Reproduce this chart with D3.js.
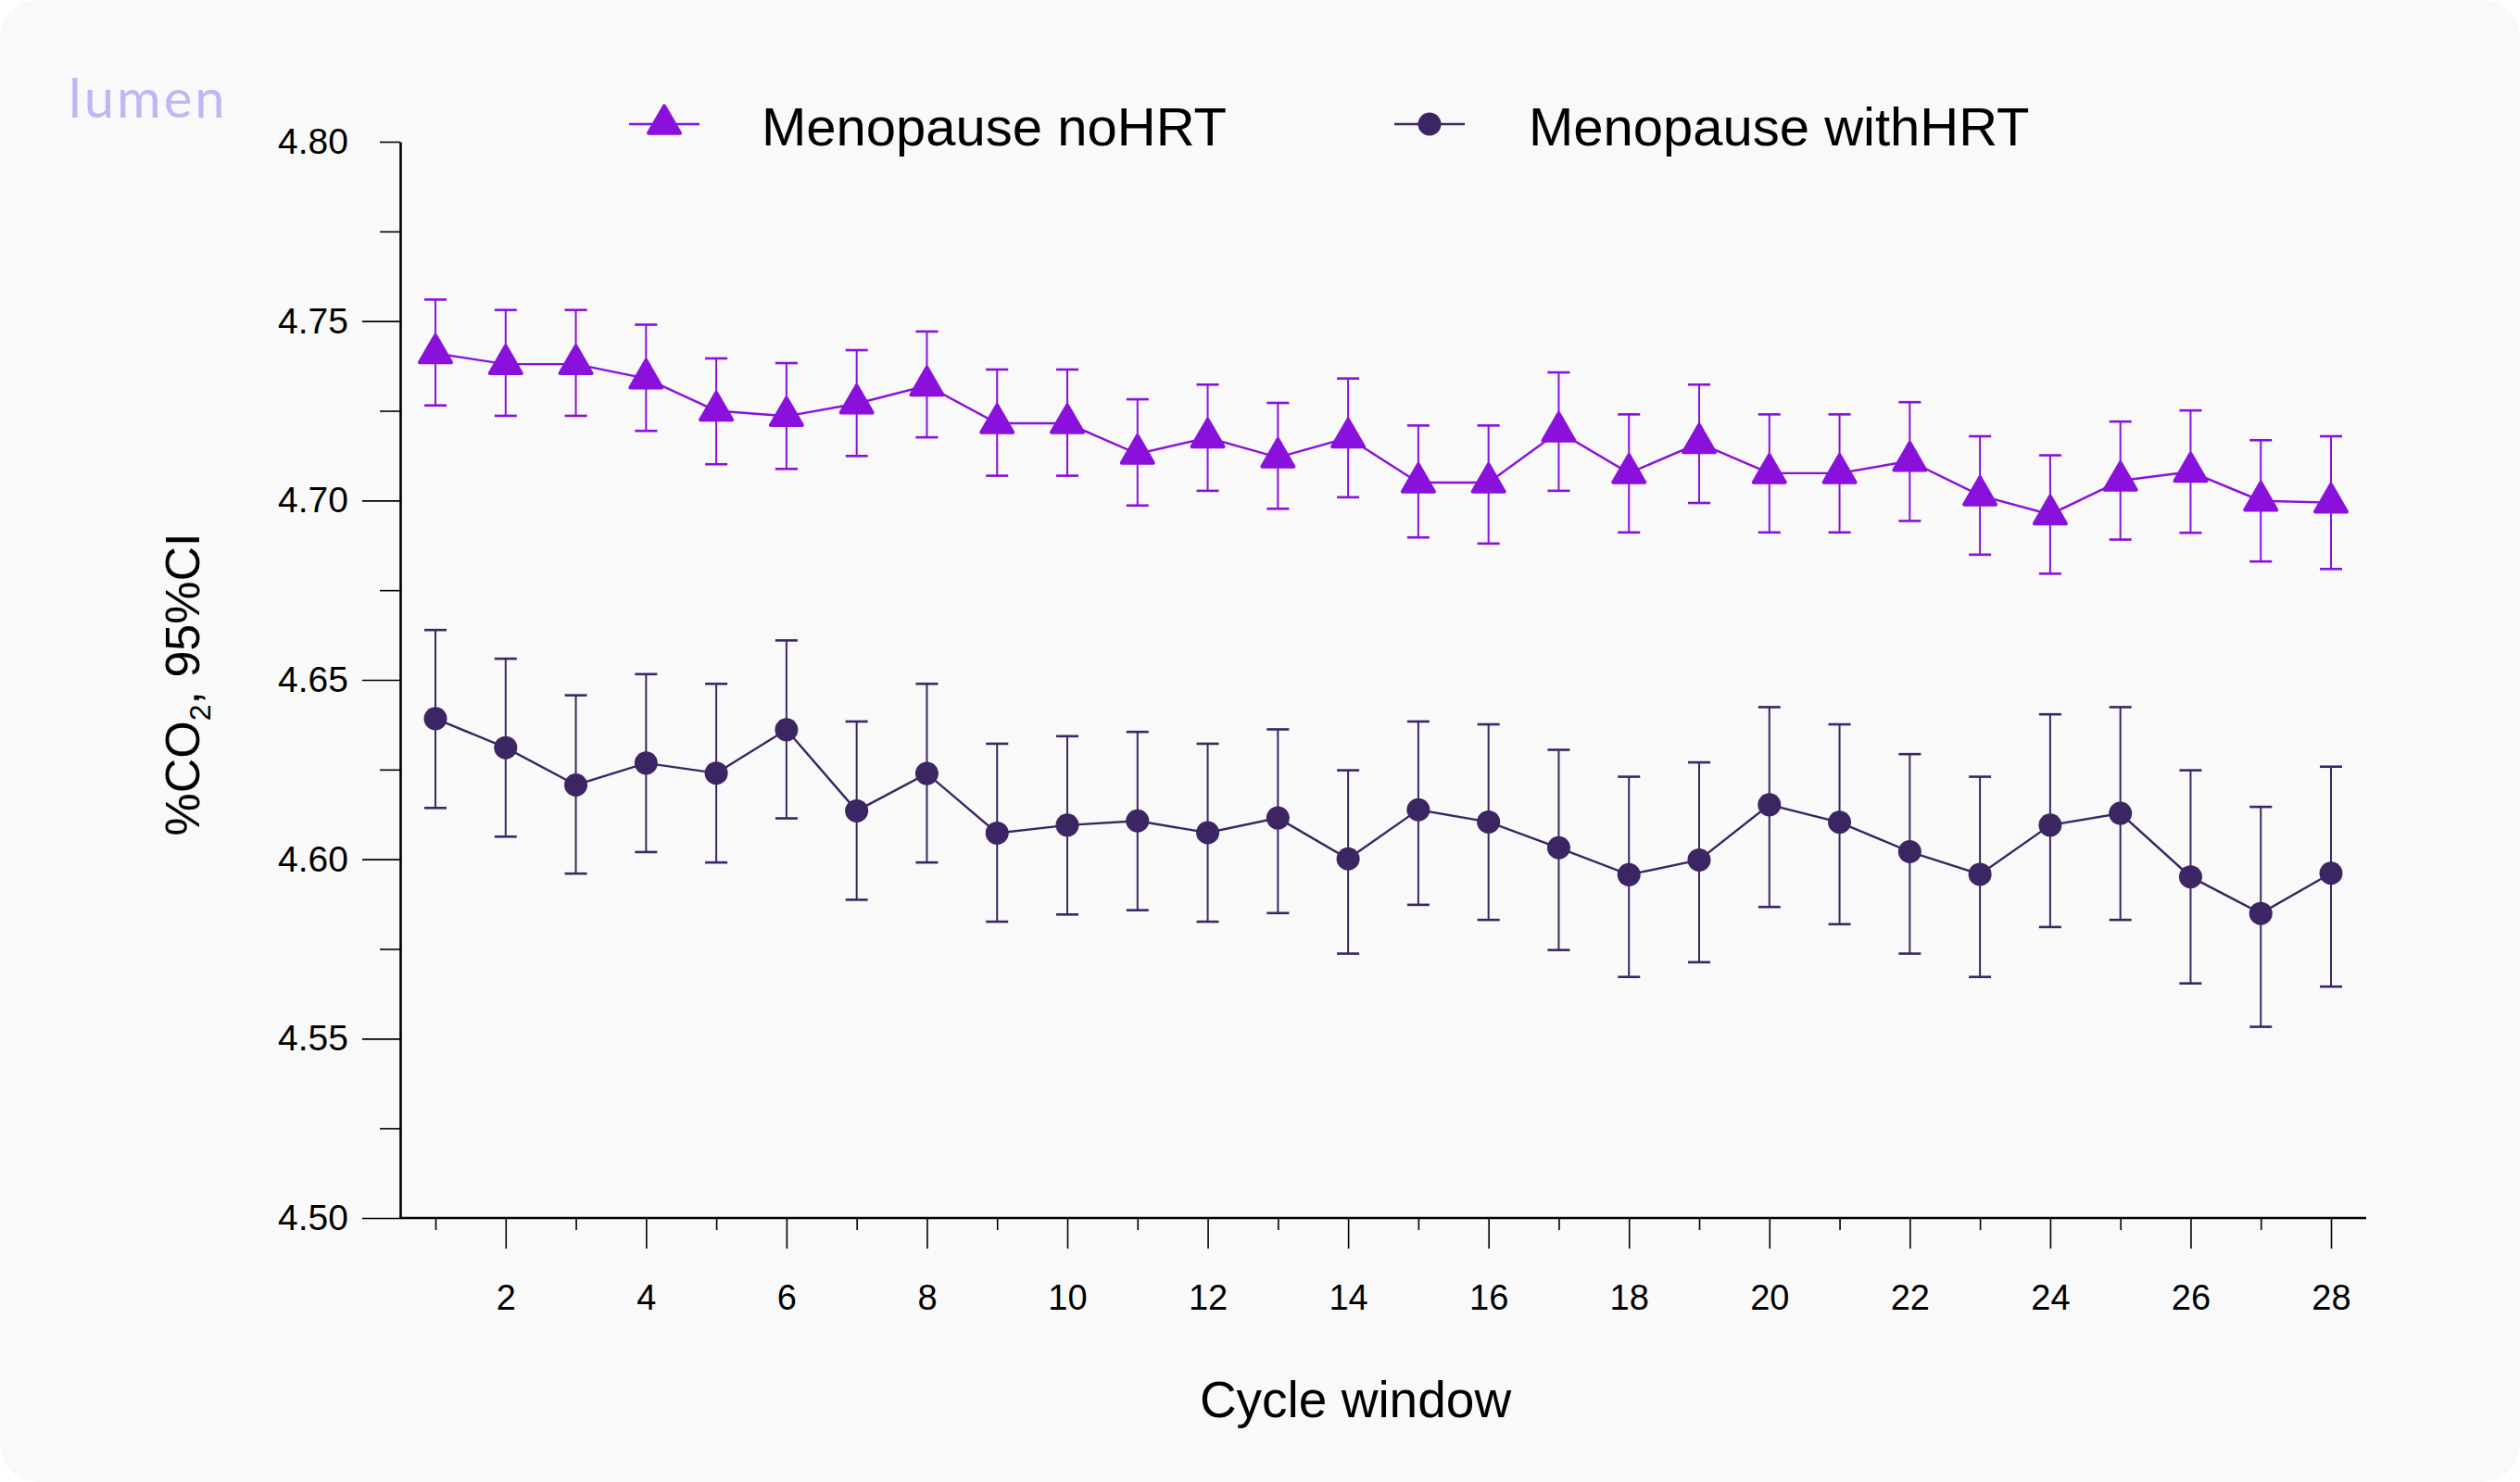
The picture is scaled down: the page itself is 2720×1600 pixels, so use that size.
<!DOCTYPE html>
<html>
<head>
<meta charset="utf-8">
<script src="https://cdn.jsdelivr.net/npm/d3@7"></script>
<style>
  html, body { margin: 0; padding: 0; background: #ffffff; }
  svg { display: block; }
  text { font-family: "Liberation Sans", Arial, Helvetica, sans-serif; fill: #000; }
</style>
</head>
<body>
<svg id="chart" width="2720" height="1600"></svg>
<script>
// ---------------- data ----------------
const cycleWindows = d3.range(1, 29);
const seriesNames = ["Menopause noHRT", "Menopause withHRT"];

const noHRTMean = [4.741, 4.738, 4.738, 4.734, 4.725, 4.7235, 4.727, 4.732, 4.7215, 4.7215,
  4.713, 4.7175, 4.712, 4.7175, 4.705, 4.705, 4.7192, 4.7076, 4.716, 4.7076,
  4.7076, 4.711, 4.7014, 4.6961, 4.7055, 4.708, 4.6999, 4.6994];
const noHRTLow = [4.7265, 4.7236, 4.7236, 4.7194, 4.7101, 4.7088, 4.7124, 4.7176, 4.7069, 4.7069,
  4.6986, 4.7027, 4.6977, 4.7009, 4.6897, 4.6880, 4.7027, 4.6911, 4.6993, 4.6911,
  4.6911, 4.6943, 4.6849, 4.6796, 4.6891, 4.6910, 4.6830, 4.6809];
const noHRTHigh = [4.7560, 4.7531, 4.7531, 4.7490, 4.7396, 4.7383, 4.7419, 4.7471, 4.7365, 4.7365,
  4.7282, 4.7323, 4.7272, 4.7340, 4.7209, 4.7209, 4.7357, 4.7240, 4.7323, 4.7240,
  4.7240, 4.7274, 4.7179, 4.7126, 4.7220, 4.7251, 4.7168, 4.7179];

const withHRTMean = [4.6392, 4.6311, 4.6207, 4.6268, 4.6240, 4.6361, 4.6135, 4.6239, 4.6073, 4.6095,
  4.6107, 4.6074, 4.6115, 4.6001, 4.6138, 4.6104, 4.6032, 4.5957, 4.5998, 4.6152,
  4.6103, 4.6021, 4.5958, 4.6095, 4.6128, 4.5951, 4.5849, 4.5961];
const withHRTLow = [4.6143, 4.6063, 4.5960, 4.6020, 4.5991, 4.6114, 4.5887, 4.5991, 4.5826, 4.5846,
  4.5858, 4.5826, 4.5850, 4.5737, 4.5873, 4.5831, 4.5747, 4.5672, 4.5713, 4.5867,
  4.5819, 4.5737, 4.5672, 4.5811, 4.5831, 4.5654, 4.5533, 4.5645];
const withHRTHigh = [4.6639, 4.6559, 4.6457, 4.6516, 4.6489, 4.6610, 4.6384, 4.6489, 4.6322, 4.6343,
  4.6355, 4.6322, 4.6362, 4.6248, 4.6384, 4.6376, 4.6305, 4.6230, 4.6270, 4.6424,
  4.6376, 4.6293, 4.6230, 4.6404, 4.6424, 4.6248, 4.6146, 4.6258];

const yMajorTicks = [4.50, 4.55, 4.60, 4.65, 4.70, 4.75, 4.80];
const yMinorTicks = [4.525, 4.575, 4.625, 4.675, 4.725, 4.775];
const xLabelTicks = [2, 4, 6, 8, 10, 12, 14, 16, 18, 20, 22, 24, 26, 28];
const xOddTicks = [1, 3, 5, 7, 9, 11, 13, 15, 17, 19, 21, 23, 25, 27];

// ---------------- layout ----------------
const W = 2720, H = 1600;
const colNo = "#8a10dc";
const colWith = "#3b2562";

const svg = d3.select("#chart");

svg.append("rect").attr("x", 0).attr("y", 0).attr("width", W).attr("height", H)
  .attr("rx", 40).attr("ry", 40).attr("fill", "#f9f9fa");

// logo
svg.append("text").attr("x", 74).attr("y", 127)
  .style("font-family", "Lato, 'Open Sans', sans-serif")
  .style("font-size", "58px").style("font-weight", 400)
  .style("letter-spacing", "3px")
  .style("fill", "#c2b5f6").text("lumen");

const x = d3.scaleLinear().domain([1, 28]).range([470, 2516]);
const y = d3.scaleLinear().domain([4.5, 4.8]).range([1315, 153]);
const axisX0 = 432, axisX1 = 2554, axisY = 1315;

// Y axis
const gy = svg.append("g").attr("transform", `translate(${axisX0},0)`);
gy.call(d3.axisLeft(y).tickValues(yMajorTicks).tickSize(41).tickSizeOuter(0)
  .tickPadding(15).tickFormat(d3.format(".2f")));
gy.call(g => g.selectAll(".tick").filter(d => d === 4.80).select("line").attr("x2", -22));
const gyMinor = svg.append("g").attr("transform", `translate(${axisX0},0)`);
gyMinor.call(d3.axisLeft(y).tickValues(yMinorTicks).tickSize(22).tickSizeOuter(0).tickFormat(""));
gyMinor.select(".domain").remove();
[gy, gyMinor].forEach(g => {
  g.selectAll(".tick line").attr("stroke", "#000").attr("stroke-width", 1.6);
});
gy.select(".domain").attr("stroke", "#000").attr("stroke-width", 2.6);
gy.selectAll(".tick text").style("font-size", "39px").style("font-family", "'Liberation Sans', Arial, sans-serif").attr("fill", "#000");

// X axis
const gx = svg.append("g").attr("transform", `translate(0,${axisY})`);
gx.call(d3.axisBottom(x).tickValues(xLabelTicks).tickSize(33).tickSizeOuter(0).tickPadding(39));
gx.select(".domain").remove();
const gxMinor = svg.append("g").attr("transform", `translate(0,${axisY})`);
gxMinor.call(d3.axisBottom(x).tickValues(xOddTicks).tickSize(13).tickSizeOuter(0).tickFormat(""));
gxMinor.select(".domain").remove();
[gx, gxMinor].forEach(g => g.selectAll(".tick line").attr("stroke", "#000").attr("stroke-width", 1.6));
gx.selectAll(".tick text").style("font-size", "38px").style("font-family", "'Liberation Sans', Arial, sans-serif").attr("fill", "#000");
svg.append("line").attr("x1", axisX0 - 1).attr("x2", axisX1).attr("y1", axisY).attr("y2", axisY)
  .attr("stroke", "#000").attr("stroke-width", 2.6);

// axis titles
svg.append("text").attr("x", 1463).attr("y", 1530).attr("text-anchor", "middle")
  .style("font-size", "55px").text("Cycle window");

const yt = svg.append("text").attr("transform", "translate(215,739) rotate(-90)")
  .attr("text-anchor", "middle").style("font-size", "52px");
yt.append("tspan").text("%CO");
yt.append("tspan").attr("dy", 12).style("font-size", "32px").text("2");
yt.append("tspan").attr("dy", -12).text(", 95%CI");

// ---------------- series ----------------
const series = [
  { name: seriesNames[0], mean: noHRTMean, lo: noHRTLow, hi: noHRTHigh, color: colNo, marker: "triangle" },
  { name: seriesNames[1], mean: withHRTMean, lo: withHRTLow, hi: withHRTHigh, color: colWith, marker: "circle" }
];

const tri = d3.symbol().type(d3.symbolTriangle).size(500);

function drawMarker(g, type, color, cx, cy) {
  if (type === "triangle") {
    g.append("path").attr("d", tri()).attr("transform", `translate(${cx},${cy})`)
      .attr("fill", color).attr("stroke", color).attr("stroke-width", 4).attr("stroke-linejoin", "round");
  } else {
    g.append("circle").attr("cx", cx).attr("cy", cy).attr("r", 12.5).attr("fill", color);
  }
}

series.forEach(s => {
  const g = svg.append("g");
  const pts = cycleWindows.map((c, i) => ({ c, m: s.mean[i], lo: s.lo[i], hi: s.hi[i] }));
  // error bars
  const eb = g.append("g").selectAll("g").data(pts).join("g");
  eb.append("line").attr("x1", d => x(d.c)).attr("x2", d => x(d.c))
    .attr("y1", d => y(d.lo)).attr("y2", d => y(d.hi))
    .attr("stroke", s.color).attr("stroke-width", 2);
  eb.append("line").attr("x1", d => x(d.c) - 12).attr("x2", d => x(d.c) + 12)
    .attr("y1", d => y(d.hi)).attr("y2", d => y(d.hi))
    .attr("stroke", s.color).attr("stroke-width", 2.6);
  eb.append("line").attr("x1", d => x(d.c) - 12).attr("x2", d => x(d.c) + 12)
    .attr("y1", d => y(d.lo)).attr("y2", d => y(d.lo))
    .attr("stroke", s.color).attr("stroke-width", 2.6);
  // line
  g.append("path").datum(pts)
    .attr("d", d3.line().x(d => x(d.c)).y(d => y(d.m)))
    .attr("fill", "none").attr("stroke", s.color).attr("stroke-width", 2.4);
  // markers
  pts.forEach(d => drawMarker(g, s.marker, s.color, x(d.c), y(d.m)));
});

// ---------------- legend ----------------
const legendItems = [
  { s: series[0], cx: 717, tx: 822 },
  { s: series[1], cx: 1543, tx: 1650 }
];
legendItems.forEach(li => {
  const g = svg.append("g");
  g.append("line").attr("x1", li.cx - 38).attr("x2", li.cx + 38).attr("y1", 134).attr("y2", 134)
    .attr("stroke", li.s.color).attr("stroke-width", 2.4);
  drawMarker(g, li.s.marker, li.s.color, li.cx, 134);
  g.append("text").attr("x", li.tx).attr("y", 157).style("font-size", "58px").text(li.s.name);
});
</script>
</body>
</html>
